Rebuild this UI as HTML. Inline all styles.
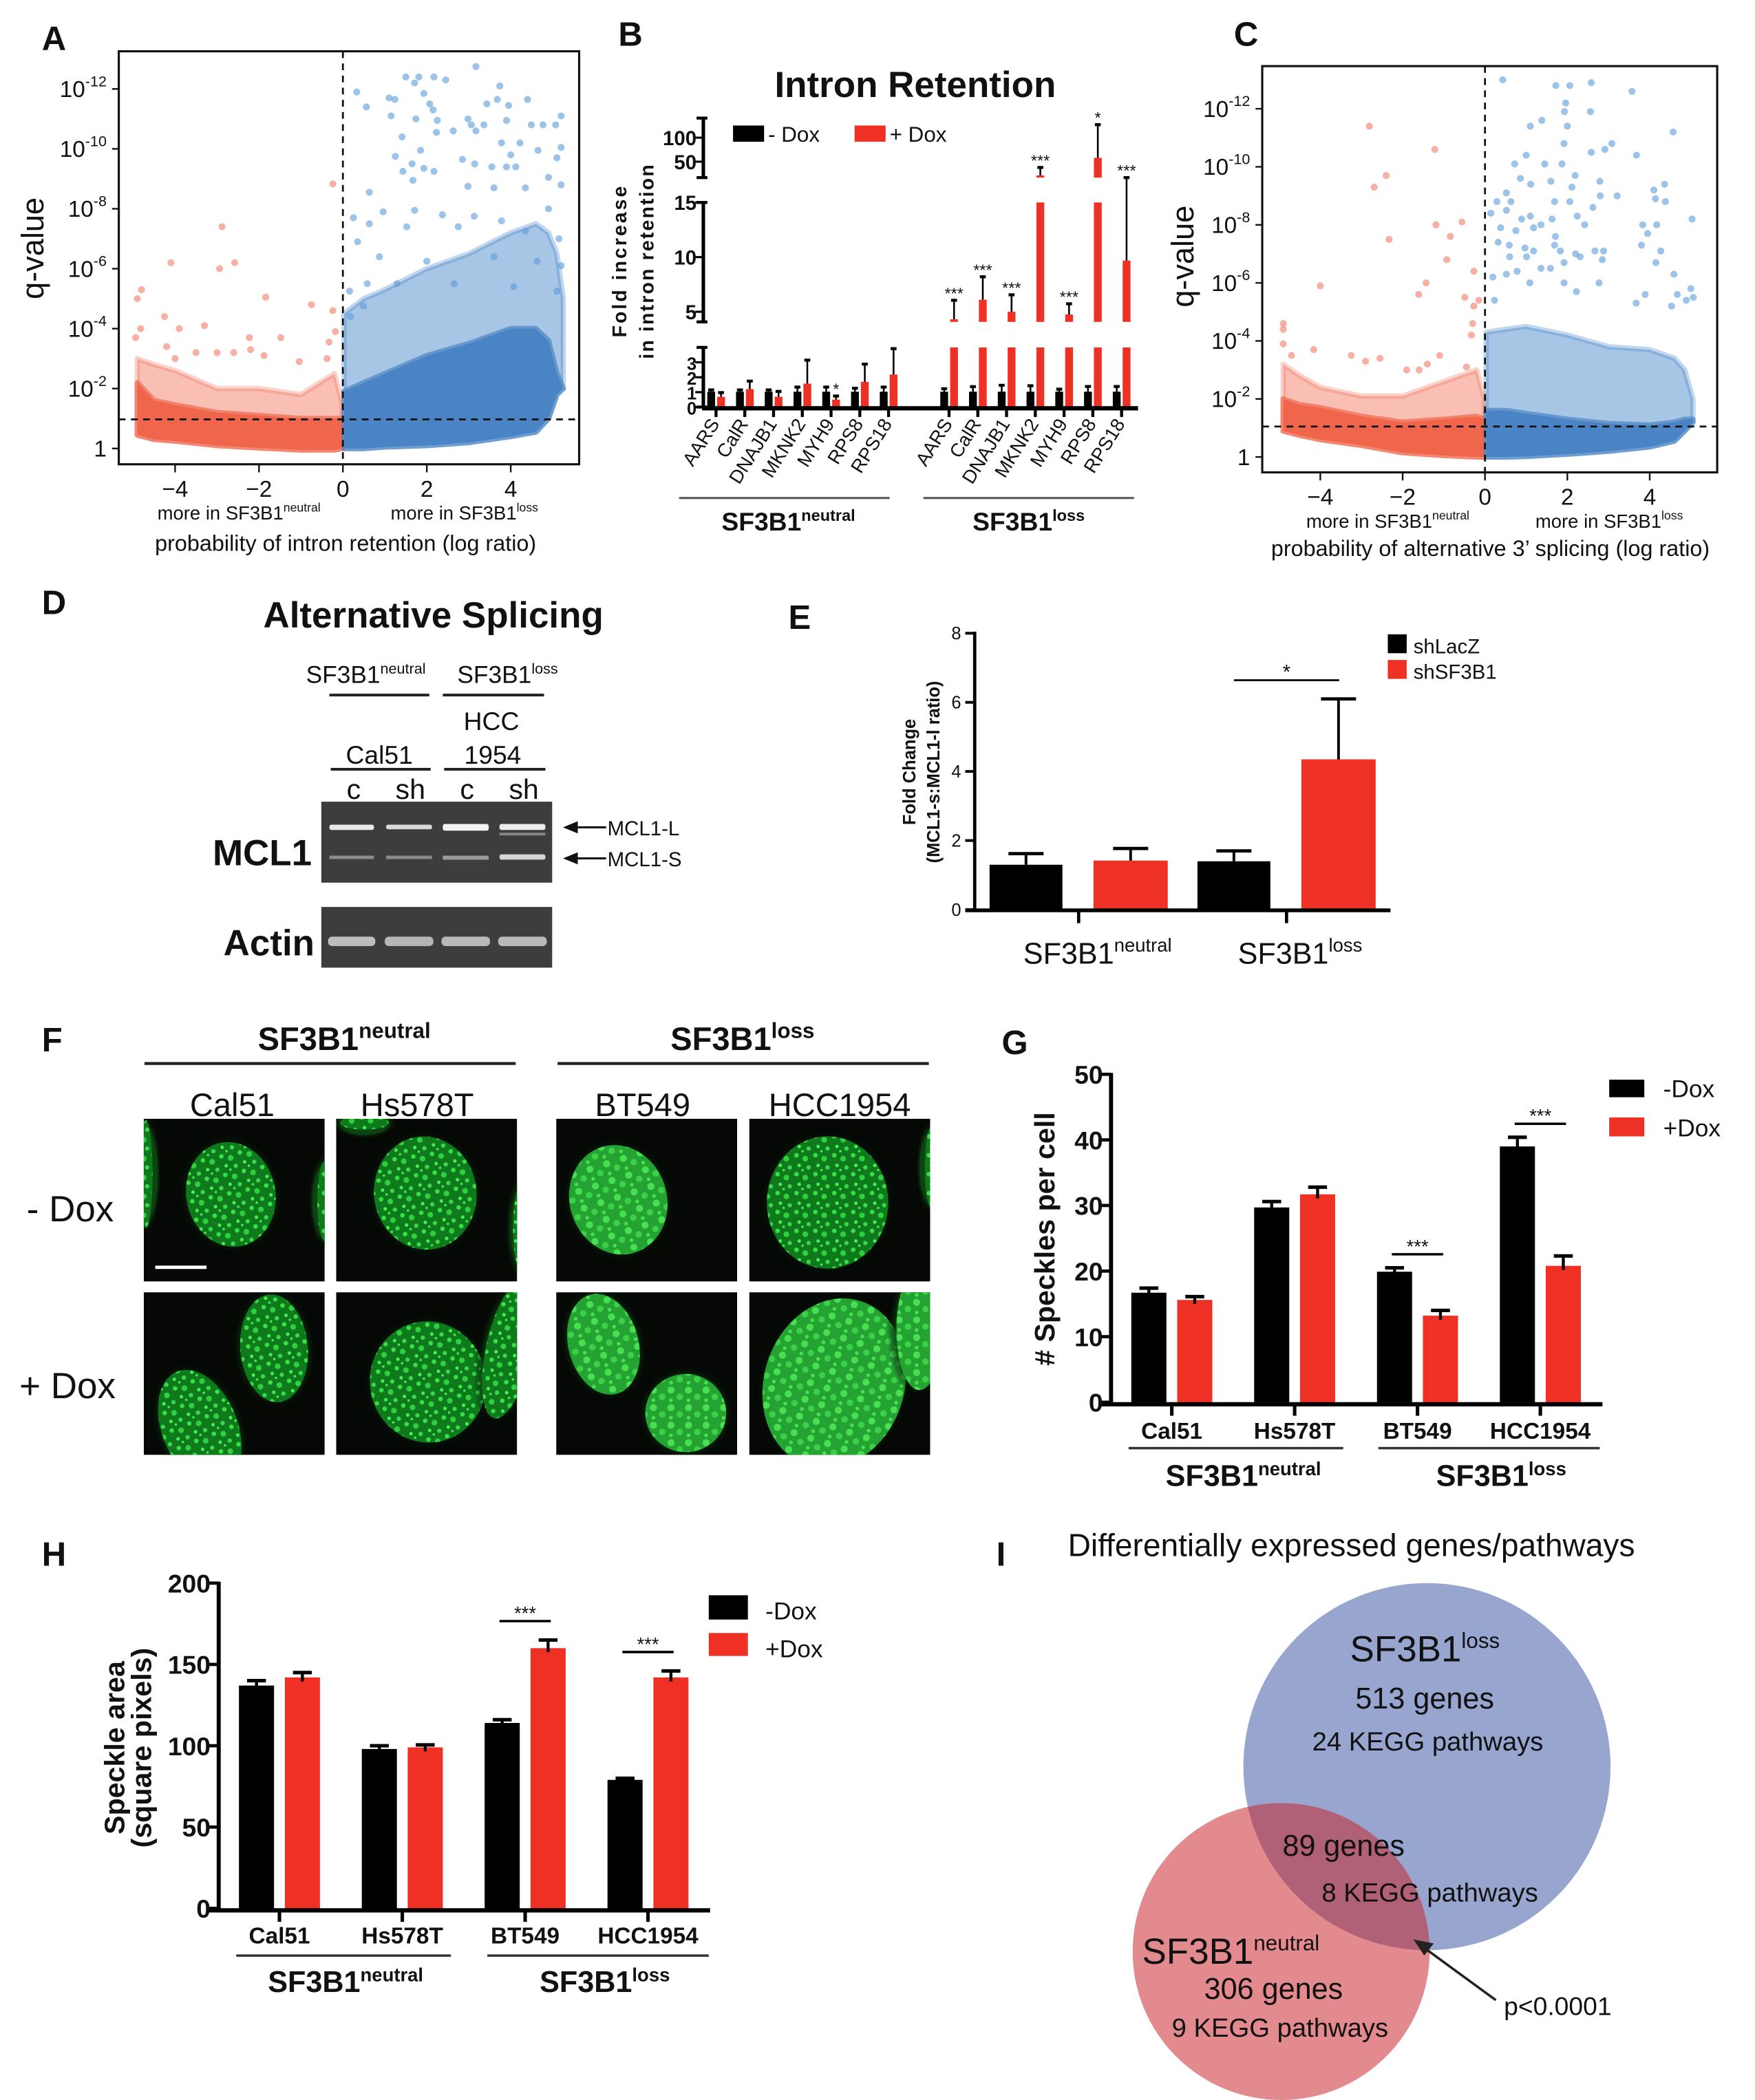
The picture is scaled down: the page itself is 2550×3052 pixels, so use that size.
<!DOCTYPE html>
<html><head><meta charset="utf-8"><title>SF3B1 figure</title>
<style>
html,body{margin:0;padding:0;background:#fff;}
svg{display:block;}
text{font-family:"Liberation Sans",Arial,sans-serif;fill:#111;}
.b{font-weight:bold;}
</style></head>
<body>
<svg id="fig" xmlns="http://www.w3.org/2000/svg" width="2550" height="3052" viewBox="0 0 1300 1556" preserveAspectRatio="none">
<defs>
<pattern id="speck" width="14" height="14" patternUnits="userSpaceOnUse">
<rect width="14" height="14" fill="#0f7a1c"/>
<circle cx="2" cy="2" r="1.7" fill="#37e046"/><circle cx="8.5" cy="4.5" r="2.1" fill="#2fd040"/><circle cx="4" cy="9.5" r="1.3" fill="#46f055"/><circle cx="11" cy="11" r="1.6" fill="#3ad84a"/><circle cx="6.5" cy="13" r="0.9" fill="#46f055"/>
</pattern>
<pattern id="speck2" width="13" height="13" patternUnits="userSpaceOnUse">
<rect width="13" height="13" fill="#25a332"/>
<circle cx="3" cy="3" r="2.6" fill="#48e052"/><circle cx="9.5" cy="8" r="2.4" fill="#3ad048"/><circle cx="3" cy="10.5" r="1.4" fill="#48e052"/>
</pattern>
<radialGradient id="glow"><stop offset="0.7" stop-color="#0e4a14" stop-opacity="0.9"/><stop offset="1" stop-color="#000" stop-opacity="0"/></radialGradient>
<clipPath id="clipA"><rect x="88" y="38" width="341" height="306"/></clipPath>
<clipPath id="clipC"><rect x="935" y="49" width="337" height="301"/></clipPath>
<clipPath id="clipBlue"><circle cx="1057" cy="1309" r="136"/></clipPath>
</defs>

<g class="b" font-size="25">
<text x="31" y="37" class="b" font-size="25">A</text>
<text x="458" y="34" class="b" font-size="25">B</text>
<text x="914" y="34" class="b" font-size="25">C</text>
<text x="31" y="455" class="b" font-size="25">D</text>
<text x="584" y="466" class="b" font-size="25">E</text>
<text x="31" y="779" class="b" font-size="25">F</text>
<text x="742" y="781" class="b" font-size="25">G</text>
<text x="31" y="1160" class="b" font-size="25">H</text>
<text x="738" y="1160" class="b" font-size="25">I</text>
</g>

<g id="panelA">
<g id="A-marks" clip-path="url(#clipA)"></g>
<rect x="88" y="38" width="341" height="306" fill="none" stroke="#111" stroke-width="1.6"/>
<g id="A-axes"></g>
<text x="32" y="184" font-size="23" text-anchor="middle" transform="rotate(-90 32 184)">q-value</text>
<text x="177" y="385" font-size="14" text-anchor="middle">more in SF3B1<tspan font-size="9" dy="-6">neutral</tspan></text>
<text x="344" y="385" font-size="14" text-anchor="middle">more in SF3B1<tspan font-size="9" dy="-6">loss</tspan></text>
<text x="256" y="408" font-size="16.5" text-anchor="middle">probability of intron retention (log ratio)</text>
</g>

<g id="panelC">
<g id="C-marks" clip-path="url(#clipC)"></g>
<rect x="935" y="49" width="337" height="301" fill="none" stroke="#111" stroke-width="1.6"/>
<g id="C-axes"></g>
<text x="884" y="190" font-size="23" text-anchor="middle" transform="rotate(-90 884 190)">q-value</text>
<text x="1028" y="391" font-size="14" text-anchor="middle">more in SF3B1<tspan font-size="9" dy="-6">neutral</tspan></text>
<text x="1192" y="391" font-size="14" text-anchor="middle">more in SF3B1<tspan font-size="9" dy="-6">loss</tspan></text>
<text x="1104" y="412" font-size="16.5" text-anchor="middle">probability of alternative 3’ splicing (log ratio)</text>
</g>

<g id="panelB">
<text x="678" y="72" font-size="27" class="b" text-anchor="middle">Intron Retention</text>
<rect x="543" y="93" width="23" height="12" fill="#000"/>
<text x="569" y="105" font-size="16">- Dox</text>
<rect x="633" y="93" width="23" height="12" fill="#ee3124"/>
<text x="659" y="105" font-size="16">+ Dox</text>
<text x="464" y="194" font-size="14.5" class="b" text-anchor="middle" transform="rotate(-90 464 194)" textLength="112">Fold increase</text>
<text x="484" y="194" font-size="14.5" class="b" text-anchor="middle" transform="rotate(-90 484 194)" textLength="144">in intron retention</text>
<line x1="503" y1="369" x2="659" y2="369" stroke="#555" stroke-width="1.5"/>
<line x1="684" y1="369" x2="840" y2="369" stroke="#555" stroke-width="1.5"/>
<text x="584" y="393" font-size="19" class="b" text-anchor="middle">SF3B1<tspan font-size="12" dy="-7">neutral</tspan></text>
<text x="762" y="393" font-size="19" class="b" text-anchor="middle">SF3B1<tspan font-size="12" dy="-7">loss</tspan></text>
<g id="B-marks"></g>
</g>

<g id="panelD">
<text x="321" y="465" font-size="27" class="b" text-anchor="middle">Alternative Splicing</text>
<text x="271" y="506" font-size="18" text-anchor="middle">SF3B1<tspan font-size="11" dy="-7">neutral</tspan></text>
<text x="376" y="506" font-size="18" text-anchor="middle">SF3B1<tspan font-size="11" dy="-7">loss</tspan></text>
<line x1="244" y1="515" x2="318" y2="515" stroke="#222" stroke-width="2"/>
<line x1="328" y1="515" x2="403" y2="515" stroke="#222" stroke-width="2"/>
<text x="364" y="541" font-size="19" text-anchor="middle">HCC</text>
<text x="281" y="566" font-size="19" text-anchor="middle">Cal51</text>
<text x="365" y="566" font-size="19" text-anchor="middle">1954</text>
<line x1="245" y1="570" x2="319" y2="570" stroke="#222" stroke-width="2"/>
<line x1="329" y1="570" x2="404" y2="570" stroke="#222" stroke-width="2"/>
<text x="262" y="592" font-size="21" text-anchor="middle">c</text>
<text x="304" y="592" font-size="21" text-anchor="middle">sh</text>
<text x="346" y="592" font-size="21" text-anchor="middle">c</text>
<text x="388" y="592" font-size="21" text-anchor="middle">sh</text>
<rect x="238" y="594" width="171" height="60" fill="#3d3d3d"/>
<g>
<rect x="244" y="611" width="33" height="4" fill="#e8e8e8" rx="1.5"/>
<rect x="286" y="611" width="34" height="3.5" fill="#d8d8d8" rx="1.5"/>
<rect x="328" y="610.5" width="34" height="5" fill="#f2f2f2" rx="1.5"/>
<rect x="370" y="610.5" width="34" height="4.5" fill="#ececec" rx="1.5"/>
<rect x="370" y="617" width="34" height="2" fill="#888"/>
<rect x="244" y="634" width="33" height="2.5" fill="#8c8c8c"/>
<rect x="286" y="634" width="34" height="2.5" fill="#8a8a8a"/>
<rect x="328" y="634" width="34" height="3" fill="#9a9a9a"/>
<rect x="370" y="633" width="34" height="4" fill="#d6d6d6" rx="1.5"/>
</g>
<rect x="238" y="672" width="171" height="45" fill="#3d3d3d"/>
<g>
<rect x="243" y="694" width="35" height="7" fill="#bdbdbd" rx="3"/>
<rect x="285" y="694" width="36" height="7" fill="#b5b5b5" rx="3"/>
<rect x="327" y="694" width="36" height="7" fill="#b8b8b8" rx="3"/>
<rect x="369" y="694" width="36" height="7" fill="#b8b8b8" rx="3"/>
</g>
<text x="231" y="641" font-size="27" class="b" text-anchor="end">MCL1</text>
<text x="233" y="708" font-size="27" class="b" text-anchor="end">Actin</text>
<g><line x1="426" y1="613" x2="449" y2="613" stroke="#111" stroke-width="1.5"/><polygon points="417,613 428,608.5 428,617.5" fill="#111"/></g>
<g><line x1="426" y1="636" x2="449" y2="636" stroke="#111" stroke-width="1.5"/><polygon points="417,636 428,631.5 428,640.5" fill="#111"/></g>
<text x="450" y="619" font-size="15">MCL1-L</text>
<text x="450" y="642" font-size="15">MCL1-S</text>
</g>

<g id="panelE">
<g id="E-marks"></g>
<text x="678" y="572" font-size="13" class="b" text-anchor="middle" transform="rotate(-90 678 572)">Fold Change</text>
<text x="696" y="572" font-size="13" class="b" text-anchor="middle" transform="rotate(-90 696 572)">(MCL1-s:MCL1-l ratio)</text>
<text x="813" y="714" font-size="22" text-anchor="middle">SF3B1<tspan font-size="14" dy="-9">neutral</tspan></text>
<text x="963" y="714" font-size="22" text-anchor="middle">SF3B1<tspan font-size="14" dy="-9">loss</tspan></text>
<rect x="1028" y="470" width="14" height="14" fill="#000"/>
<text x="1047" y="484" font-size="15">shLacZ</text>
<rect x="1028" y="489" width="14" height="14" fill="#ee3124"/>
<text x="1047" y="503" font-size="15">shSF3B1</text>
<line x1="914" y1="504" x2="992" y2="504" stroke="#111" stroke-width="1.5"/>
<text x="953" y="503" font-size="15" text-anchor="middle">*</text>
</g>

<g id="panelF">
<text x="255" y="778" font-size="24" class="b" text-anchor="middle">SF3B1<tspan font-size="16" dy="-9">neutral</tspan></text>
<text x="550" y="778" font-size="24" class="b" text-anchor="middle">SF3B1<tspan font-size="16" dy="-9">loss</tspan></text>
<line x1="107" y1="788" x2="382" y2="788" stroke="#222" stroke-width="2.2"/>
<line x1="413" y1="788" x2="688" y2="788" stroke="#222" stroke-width="2.2"/>
<text x="172" y="827" font-size="24" text-anchor="middle">Cal51</text>
<text x="309" y="827" font-size="24" text-anchor="middle">Hs578T</text>
<text x="476" y="827" font-size="24" text-anchor="middle">BT549</text>
<text x="622" y="827" font-size="24" text-anchor="middle">HCC1954</text>
<text x="52" y="905" font-size="27" text-anchor="middle">- Dox</text>
<text x="50" y="1036" font-size="27" text-anchor="middle">+ Dox</text>
<g id="F-tiles"></g>
</g>

<g id="panelG">
<g id="G-marks"></g>
<text x="781" y="918" font-size="21" class="b" text-anchor="middle" transform="rotate(-90 781 918)"># Speckles per cell</text>
<line x1="836" y1="1073" x2="995" y2="1073" stroke="#333" stroke-width="1.8"/>
<line x1="1021" y1="1073" x2="1185" y2="1073" stroke="#333" stroke-width="1.8"/>
<text x="921" y="1101" font-size="22" class="b" text-anchor="middle">SF3B1<tspan font-size="14" dy="-8">neutral</tspan></text>
<text x="1112" y="1101" font-size="22" class="b" text-anchor="middle">SF3B1<tspan font-size="14" dy="-8">loss</tspan></text>
<rect x="1192" y="800" width="26" height="13" fill="#000"/>
<text x="1232" y="813" font-size="18">-Dox</text>
<rect x="1192" y="828" width="26" height="14" fill="#ee3124"/>
<text x="1232" y="842" font-size="18">+Dox</text>
</g>

<g id="panelH">
<g id="H-marks"></g>
<text x="92" y="1295" font-size="21" class="b" text-anchor="middle" transform="rotate(-90 92 1295)">Speckle area</text>
<text x="112" y="1295" font-size="21" class="b" text-anchor="middle" transform="rotate(-90 112 1295)">(square pixels)</text>
<line x1="175" y1="1449" x2="334" y2="1449" stroke="#333" stroke-width="1.8"/>
<line x1="361" y1="1449" x2="525" y2="1449" stroke="#333" stroke-width="1.8"/>
<text x="256" y="1476" font-size="22" class="b" text-anchor="middle">SF3B1<tspan font-size="14" dy="-8">neutral</tspan></text>
<text x="448" y="1476" font-size="22" class="b" text-anchor="middle">SF3B1<tspan font-size="14" dy="-8">loss</tspan></text>
<rect x="525" y="1182" width="29" height="18" fill="#000"/>
<text x="567" y="1200" font-size="18">-Dox</text>
<rect x="525" y="1210" width="29" height="17" fill="#ee3124"/>
<text x="567" y="1228" font-size="18">+Dox</text>
</g>

<g id="panelI">
<text x="791" y="1153" font-size="23.5">Differentially expressed genes/pathways</text>
<circle cx="1057" cy="1309" r="136" fill="#97a5cf"/>
<circle cx="949" cy="1446" r="110" fill="#e38a8f"/>
<circle cx="949" cy="1446" r="110" fill="#b06177" clip-path="url(#clipBlue)"/>
<text x="1000" y="1231" font-size="27">SF3B1<tspan font-size="16" dy="-10">loss</tspan></text>
<text x="1004" y="1266" font-size="22">513 genes</text>
<text x="972" y="1297" font-size="19.5" fill="#222">24 KEGG pathways</text>
<text x="950" y="1375" font-size="22">89 genes</text>
<text x="979" y="1409" font-size="19.5" fill="#222">8 KEGG pathways</text>
<text x="846" y="1455" font-size="27">SF3B1<tspan font-size="16" dy="-10">neutral</tspan></text>
<text x="892" y="1481" font-size="22">306 genes</text>
<text x="868" y="1509" font-size="19.5" fill="#222">9 KEGG pathways</text>
<g><line x1="1108" y1="1482" x2="1056" y2="1444" stroke="#222" stroke-width="1.8"/><polygon points="1047,1437 1062,1440 1055,1449" fill="#222"/></g>
<text x="1114" y="1493" font-size="19">p&lt;0.0001</text>
</g>
</svg>

<script>
// Panel A
const aRedX = [-0.24,-2.88,-4.1,-2.58,-2.94,-4.8,-4.9,-1.84,-0.75,-0.24,-4.25,-4.82,-3.9,-3.3,-0.18,-2.23,-1.48,-0.33,-4.94,-4.2,-3.5,-3.0,-2.6,-2.2,-1.88,-1.04,-0.38,-4.0];
const aRedY = [8.83,7.4,6.2,6.2,6.0,5.3,5.0,5.05,4.8,4.6,4.4,4.0,4.0,4.1,3.9,3.7,3.7,3.55,3.7,3.4,3.2,3.2,3.2,3.3,3.1,2.9,3.0,3.0];
const aBlueX = [3.17,1.5,1.81,2.17,2.45,3.74,1.71,0.33,1.1,1.24,1.93,2.07,3.43,3.68,3.95,4.4,0.56,2.15,5.2,1.15,1.74,2.25,2.98,3.06,3.36,3.9,4.49,4.77,5.07,2.63,1.41,2.23,3.17,3.78,4.22,5.2,4.65,1.25,1.85,2.85,3.14,4.0,5.1,1.65,1.93,3.55,3.9,4.12,4.9,1.43,2.17,0.63,1.67,2.98,3.6,4.35,5.2,0.25,0.96,1.71,2.37,3.13,3.78,4.9,0.63,1.52,2.75,4.35,5.15,0.35,0.87,2.0,3.6,4.63,5.2,0.16,0.58,1.29,2.65,4.07,5.1,0.18,0.49];
const aBlueY = [12.75,12.4,12.4,12.4,12.3,12.1,12.2,11.9,11.7,11.65,11.85,11.5,11.5,11.65,11.45,11.65,11.4,11.3,11.1,11.1,11.0,10.95,11.0,10.8,10.8,10.95,10.8,10.8,10.8,10.6,10.4,10.55,10.6,10.2,10.2,10.05,9.95,9.75,9.95,9.65,9.5,9.8,9.7,9.5,9.35,9.4,9.4,9.4,9.05,9.25,9.25,8.55,8.95,8.75,8.7,8.7,8.8,7.7,7.9,7.95,7.8,7.75,7.6,8.0,7.5,7.4,7.4,7.25,7.0,6.9,6.4,6.25,6.4,6.25,6.1,5.25,5.5,5.5,5.5,5.4,5.25,4.4,4.75];
const aRedEnvX = [-4.9,-4.5,-4,-3,-2,-1,-0.2,-0.02];
const aRedSolidTop = [2.2,1.6,1.45,1.2,1.1,1.0,1.0,1.0];
const aRedCloudTop = [3.0,2.8,2.6,2.0,2.0,1.8,2.5,1.5];
const aRedBottom = [0.45,0.3,0.25,0.1,0.02,-0.05,-0.05,0.0];
const aBlueEnvX = [0.03,0.5,1,2,3,4,4.6,4.9,5.1,5.25];
const aBlueSolidTop = [1.9,2.2,2.5,3.1,3.5,4.0,4.0,3.6,2.5,2.0];
const aBlueCloudTop = [4.5,5.0,5.3,6.0,6.5,7.2,7.5,7.2,6.5,5.0];
const aBlueBottom = [0.0,0.0,0.05,0.1,0.2,0.4,0.55,1.0,1.8,2.0];

// Panel C
const cRedX = [-2.81,-1.22,-2.4,-2.69,-1.19,-0.56,-2.33,-0.84,-0.93,-0.27,-4.0,-1.43,-1.61,-0.49,-0.15,-4.9,-4.9,-4.9,-4.16,-4.7,-3.25,-1.1,-2.55,-2.9,-1.4,-1.6,-1.9,-0.45,-0.3,-0.33,-0.27];
const cRedY = [11.4,10.6,9.7,9.3,8.0,8.1,7.5,7.6,6.8,6.4,5.9,6.0,5.6,5.5,5.4,4.6,4.4,3.9,3.7,3.5,3.5,3.5,3.4,3.3,3.2,3.0,3.0,3.1,4.6,4.2,5.2];
const cBlueX = [0.43,1.72,2.06,2.58,3.57,1.96,1.93,2.56,1.38,1.1,2.0,4.57,1.92,3.08,2.91,2.58,3.68,1.0,0.72,1.45,1.87,0.86,1.6,2.19,2.79,1.11,4.1,4.36,2.11,0.52,3.21,4.14,2.8,0.29,0.63,1.69,2.06,4.38,2.62,0.14,0.52,1.1,2.24,1.63,5.03,0.89,1.36,2.42,3.83,4.17,0.38,0.75,1.18,3.95,1.71,0.32,0.59,3.8,1.69,0.97,1.18,2.88,2.67,2.2,4.27,1.83,0.6,1.01,1.92,2.31,2.85,4.15,0.78,1.36,1.59,0.19,0.52,4.59,1.09,1.92,2.77,5.0,0.23,2.22,3.89,4.67,5.06,4.89,4.53,3.67];
const cBlueY = [13.0,12.8,12.8,12.9,12.6,12.2,11.9,11.9,11.6,11.4,11.4,11.2,10.8,10.8,10.6,10.5,10.4,10.4,10.1,10.1,10.1,9.6,9.5,9.7,9.5,9.4,9.2,9.4,9.3,9.1,9.0,8.9,9.0,8.8,8.8,8.8,8.8,8.8,8.6,8.4,8.5,8.3,8.3,8.2,8.2,8.2,8.0,8.0,8.0,8.0,7.9,7.8,7.9,7.7,7.6,7.4,7.3,7.3,7.3,7.2,7.1,7.1,7.1,7.0,7.1,7.1,6.9,6.9,6.7,6.9,6.8,6.7,6.4,6.5,6.5,6.2,6.3,6.3,6.0,6.0,6.0,5.8,5.4,5.7,5.6,5.6,5.5,5.4,5.2,5.3];
const cRedEnvX = [-4.9,-4.5,-4,-3,-2,-1,-0.2,-0.02];
const cRedSolidTop = [2.0,1.8,1.7,1.4,1.2,1.3,1.4,1.3];
const cRedCloudTop = [3.2,2.8,2.4,2.1,2.1,2.6,3.0,2.0];
const cRedBottom = [0.9,0.75,0.6,0.4,0.15,0.05,0.0,0.0];
const cBlueEnvX = [0.03,0.5,1,2,3,4,4.6,4.85,5.05];
const cBlueSolidTop = [1.6,1.6,1.5,1.3,1.15,1.1,1.2,1.3,1.3];
const cBlueCloudTop = [4.3,4.4,4.5,4.2,3.8,3.7,3.4,3.0,2.0];
const cBlueBottom = [0.0,0.0,0.02,0.1,0.2,0.35,0.55,0.9,1.2];

// Panel B
const bGenes = ["AARS","CalR","DNAJB1","MKNK2","MYH9","RPS8","RPS18"];
const bNeutralMinus = [1.03,1.03,1.03,1.03,1.03,1.03,1.03];
const bNeutralMinusErr = [1.15,1.15,1.15,1.34,1.34,1.26,1.34];
const bNeutralPlus = [0.69,1.2,0.69,1.57,0.5,1.69,2.18];
const bNeutralPlusErr = [0.97,1.74,1.05,3.15,0.74,2.88,3.92];
const bNeutralStars = ["","","","","*","",""];
const bLossMinus = [1.03,1.03,1.03,1.03,1.03,1.03,1.03];
const bLossMinusErr = [1.23,1.37,1.46,1.43,1.2,1.38,1.38];
const bLossPlus = [4.31,6.1,5.0,21.4,4.75,58,9.68];
const bLossPlusErr = [6.05,8.2,6.55,38,5.73,127,12.9];
const bLossStars = ["***","***","***","***","***","*","***"];
const bTicksBottom = [0,1,2,3];
const bTicksMid = [5,10,15];
const bTicksTop = [50,100];

// Panel E
const eGroups = ["SF3B1 neutral","SF3B1 loss"];
const eShLacZ = [1.3,1.4];
const eShLacZErr = [1.62,1.7];
const eShSF3B1 = [1.42,4.35];
const eShSF3B1Err = [1.77,6.1];
const eTicks = [0,2,4,6,8];

// Panel G
const gCells = ["Cal51","Hs578T","BT549","HCC1954"];
const gMinusDox = [16.7,29.7,19.9,39.0];
const gMinusErr = [17.4,30.6,20.5,40.4];
const gPlusDox = [15.6,31.7,13.2,20.8];
const gPlusErr = [16.1,32.8,14.0,22.3];
const gSig = ["","","***","***"];
const gTicks = [0,10,20,30,40,50];

// Panel H
const hCells = ["Cal51","Hs578T","BT549","HCC1954"];
const hMinusDox = [137,98,114,79];
const hMinusErr = [140,100,116,80];
const hPlusDox = [142,99,160,142];
const hPlusErr = [145,100.5,165,146];
const hSig = ["","","***","***"];
const hTicks = [0,50,100,150,200];

const NS = "http://www.w3.org/2000/svg";
function mk(parent, tag, attrs) {
  const e = document.createElementNS(NS, tag);
  for (const k in attrs) e.setAttribute(k, attrs[k]);
  parent.appendChild(e);
  return e;
}
const RED = "#ee3124";

function volcano(gid, axid, xs, ys, env, pts, frame) {
  const g = document.getElementById(gid);
  const ax = document.getElementById(axid);
  function poly(X, top, bot, fill, op, name) {
    let p = [];
    for (let i = 0; i < X.length; i++) p.push(xs(X[i]).toFixed(1) + "," + ys(top[i]).toFixed(1));
    for (let i = X.length - 1; i >= 0; i--) p.push(xs(X[i]).toFixed(1) + "," + ys(bot[i]).toFixed(1));
    const e = mk(g, "polygon", {points: p.join(" "), fill: fill, "fill-opacity": op, stroke: fill, "stroke-opacity": op * 0.7, "stroke-width": 4, "stroke-linejoin": "round"});
    
    
  }
  poly(env.rx, env.rcloud, env.rbot, "#f2725a", 0.45, "red-sparse-cloud");
  poly(env.bx, env.bcloud, env.bbot, "#4f8dcc", 0.5, "blue-sparse-cloud");
  poly(env.rx, env.rsolid, env.rbot, "#f0664c", 1, "red-dense-cloud");
  poly(env.bx, env.bsolid, env.bbot, "#4a84c5", 1, "blue-dense-cloud");
  for (let i = 0; i < pts.rx.length; i++) {
    const c = mk(g, "circle", {cx: xs(pts.rx[i]), cy: ys(pts.ry[i]), r: 2.6, fill: "#f27d68", "fill-opacity": 0.6});
    
    
  }
  for (let i = 0; i < pts.bx.length; i++) {
    const c = mk(g, "circle", {cx: xs(pts.bx[i]), cy: ys(pts.by[i]), r: 2.6, fill: "#5b9bd8", "fill-opacity": 0.6});
    
    
  }
  const v = mk(g, "line", {x1: xs(0), x2: xs(0), y1: frame.y0, y2: frame.y1, stroke: "#111", "stroke-width": 1.4, "stroke-dasharray": "5,4"});
  
  
  const hLine = mk(ax, "line", {x1: frame.x0, x2: frame.x1, y1: ys(frame.thr), y2: ys(frame.thr), stroke: "#111", "stroke-width": 1.4, "stroke-dasharray": "5,4"});
  
  
  [-4,-2,0,2,4].forEach(t => {
    const l = mk(ax, "line", {x1: xs(t), x2: xs(t), y1: frame.y1, y2: frame.y1 + 6, stroke: "#111", "stroke-width": 1.2});
    
    
    const tx = mk(ax, "text", {x: xs(t), y: frame.y1 + 24, "font-size": 17, "text-anchor": "middle"});
    tx.textContent = t < 0 ? "\u2212" + Math.abs(t) : String(t);
    
    
  });
  [0,2,4,6,8,10,12].forEach(d => {
    const y = ys(d);
    const l = mk(ax, "line", {x1: frame.x0 - 5, x2: frame.x0, y1: y, y2: y, stroke: "#111", "stroke-width": 1.2});
    
    
    const tx = mk(ax, "text", {x: frame.x0 - 9, y: y + 6, "font-size": 17, "text-anchor": "end"});
    
    
    if (d === 0) { tx.textContent = "1"; }
    else {
      tx.textContent = "10";
      const s = mk(tx, "tspan", {"font-size": 11, dy: -8});
      s.textContent = "-" + d;
    }
  });
}

(function(){
  const xs = x => 254 + x * 31.08;
  const ys = d => 332.3 - d * 22.2;
  volcano("A-marks", "A-axes", xs, ys,
    {rx: aRedEnvX, rsolid: aRedSolidTop, rcloud: aRedCloudTop, rbot: aRedBottom, bx: aBlueEnvX, bsolid: aBlueSolidTop, bcloud: aBlueCloudTop, bbot: aBlueBottom},
    {rx: aRedX, ry: aRedY, bx: aBlueX, by: aBlueY},
    {x0: 88, x1: 429, y0: 38, y1: 344, thr: 0.97});
})();
(function(){
  const xs = x => 1100 + x * 30.5;
  const ys = d => 338.6 - d * 21.5;
  volcano("C-marks", "C-axes", xs, ys,
    {rx: cRedEnvX, rsolid: cRedSolidTop, rcloud: cRedCloudTop, rbot: cRedBottom, bx: cBlueEnvX, bsolid: cBlueSolidTop, bcloud: cBlueCloudTop, bbot: cBlueBottom},
    {rx: cRedX, ry: cRedY, bx: cBlueX, by: cBlueY},
    {x0: 935, x1: 1272, y0: 49, y1: 350, thr: 1.05});
})();

(function(){
  const g = document.getElementById("B-marks");
  const segs = [
    {lo: 0, hi: 4.0, y0: 301.6, k: 11.04, v0: 0},
    {lo: 4.1, hi: 15, y0: 231, k: 8.1, v0: 5},
    {lo: 12.8, hi: 134, y0: 119.8, k: 0.356, v0: 50}
  ];
  const segTop = [257.4, 150, 87.5];
  const segBot = [301.6, 238.5, 131.6];
  function yv(s, v) { return s.y0 - (v - s.v0) * s.k; }
  function yAny(v) {
    for (let i = 2; i >= 0; i--) if (v >= segs[i].lo) return Math.max(segTop[i], Math.min(segBot[i], yv(segs[i], v)));
    return segBot[0];
  }
  function bar(x, w, v, fill, name) {
    segs.forEach((s, i) => {
      if (v > s.lo) {
        const top = Math.max(segTop[i], yv(s, Math.min(v, s.hi)));
        const r = mk(g, "rect", {x: x, y: top, width: w, height: segBot[i] - top, fill: fill});
        
        
      }
    });
  }
  function err(cx, v, e, name) {
    const yt = yAny(e), yb = yAny(v);
    const l = mk(g, "line", {x1: cx, x2: cx, y1: yt, y2: yb, stroke: "#000", "stroke-width": 1.3});
    
    
    const c = mk(g, "line", {x1: cx - 2.2, x2: cx + 2.2, y1: yt, y2: yt, stroke: "#000", "stroke-width": 2.2});
    
    
    return yt;
  }
  const tickX = (grp, i) => (grp === 0 ? 530.4 : 703) + i * 21.3;
  [0, 1].forEach(grp => {
    const mv = grp === 0 ? bNeutralMinus : bLossMinus, me = grp === 0 ? bNeutralMinusErr : bLossMinusErr;
    const pv = grp === 0 ? bNeutralPlus : bLossPlus, pe = grp === 0 ? bNeutralPlusErr : bLossPlusErr;
    const st = grp === 0 ? bNeutralStars : bLossStars;
    bGenes.forEach((gene, i) => {
      const t = tickX(grp, i);
      bar(t - 6.5, 5.8, mv[i], "#000", "bar-minus-dox-" + gene.toLowerCase());
      err(t - 3.6, mv[i], me[i], "error-minus-dox");
      bar(t + 0.8, 5.8, pv[i], RED, "bar-plus-dox-" + gene.toLowerCase());
      const yt = err(t + 3.7, pv[i], pe[i], "error-plus-dox");
      if (st[i]) {
        const s = mk(g, "text", {x: t + 3.7, y: yt - 1, "font-size": 12, "text-anchor": "middle"});
        s.textContent = st[i];
        
        
      }
      const tk = mk(g, "line", {x1: t, x2: t, y1: 301, y2: 309, stroke: "#000", "stroke-width": 2.2});
      
      
      const lb = mk(g, "text", {x: t + 3, y: 314, "font-size": 14, "text-anchor": "end", transform: "rotate(-58 " + (t + 3) + " 314)"});
      lb.textContent = gene;
      
      
    });
  });
  const xl = mk(g, "line", {x1: 520, x2: 843, y1: 302.5, y2: 302.5, stroke: "#000", "stroke-width": 3.2});
  
  
  [0, 1, 2].forEach(i => {
    const a = mk(g, "line", {x1: 521, x2: 521, y1: segTop[i], y2: segBot[i], stroke: "#000", "stroke-width": 2.6});
    
    
    [segTop[i], segBot[i]].forEach(yy => {
      const c = mk(g, "line", {x1: 516, x2: 524, y1: yy, y2: yy, stroke: "#000", "stroke-width": 2.2});
      
      
    });
  });
  const tk = [[bTicksBottom, 0], [bTicksMid, 1], [bTicksTop, 2]];
  tk.forEach(([arr, si]) => arr.forEach(v => {
    const y = yv(segs[si], v);
    const l = mk(g, "line", {x1: 515, x2: 521, y1: y, y2: y, stroke: "#000", "stroke-width": 1.6});
    
    
    const t = mk(g, "text", {x: 516, y: y + 5.5, "font-size": si === 0 ? 13 : 15, "text-anchor": "end", "font-weight": "bold"});
    t.textContent = v;
    
    
  }));
})();

(function(){
  const g = document.getElementById("E-marks");
  const y = v => 674 - v * 25.6;
  const gx = [799, 953];
  eGroups.forEach((gr, i) => {
    const bx = gx[i] - 66, rx = gx[i] + 11;
    const b = mk(g, "rect", {x: bx, y: y(eShLacZ[i]), width: 54, height: 674 - y(eShLacZ[i]), fill: "#000"});
    
    
    const r = mk(g, "rect", {x: rx, y: y(eShSF3B1[i]), width: 55, height: 674 - y(eShSF3B1[i]), fill: RED});
    
    
    [[bx + 27, eShLacZ[i], eShLacZErr[i]], [rx + 27.5, eShSF3B1[i], eShSF3B1Err[i]]].forEach(([cx, v, e]) => {
      const l = mk(g, "line", {x1: cx, x2: cx, y1: y(e), y2: y(v), stroke: "#000", "stroke-width": 2});
      
      
      const c = mk(g, "line", {x1: cx - 13, x2: cx + 13, y1: y(e), y2: y(e), stroke: "#000", "stroke-width": 2.4});
      
      
    });
    const t = mk(g, "line", {x1: gx[i], x2: gx[i], y1: 674, y2: 684, stroke: "#000", "stroke-width": 2.4});
    
    
  });
  const ax = mk(g, "line", {x1: 722, x2: 722, y1: 468, y2: 675, stroke: "#000", "stroke-width": 2.4});
  
  
  const xa = mk(g, "line", {x1: 715, x2: 1030, y1: 674.5, y2: 674.5, stroke: "#000", "stroke-width": 2.8});
  
  
  eTicks.forEach(v => {
    const l = mk(g, "line", {x1: 715, x2: 722, y1: y(v), y2: y(v), stroke: "#000", "stroke-width": 2});
    
    
    const t = mk(g, "text", {x: 712, y: y(v) + 4.5, "font-size": 13, "text-anchor": "end"});
    t.textContent = v;
    
    
  });
})();

function grouped(gid, cells, mv, me, pv, pe, sig, ticks, o) {
  const g = document.getElementById(gid);
  const y = v => o.y0 - v * o.k;
  cells.forEach((c, i) => {
    const t = o.t0 + i * o.sp;
    const b = mk(g, "rect", {x: t - o.off - o.w / 2, y: y(mv[i]), width: o.w, height: o.y0 - y(mv[i]), fill: "#000"});
    
    
    const r = mk(g, "rect", {x: t + o.off - o.w / 2, y: y(pv[i]), width: o.w, height: o.y0 - y(pv[i]), fill: RED});
    
    
    [[t - o.off, mv[i], me[i]], [t + o.off, pv[i], pe[i]]].forEach(([cx, v, e]) => {
      const l = mk(g, "line", {x1: cx, x2: cx, y1: y(e), y2: y(v) + 3, stroke: "#000", "stroke-width": 2.2});
      
      
      const cap = mk(g, "line", {x1: cx - 7, x2: cx + 7, y1: y(e), y2: y(e), stroke: "#000", "stroke-width": 2.6});
      
      
    });
    if (sig[i]) {
      const sy = Math.min(y(me[i]), y(pe[i])) - o.sigGap;
      const sl = mk(g, "line", {x1: t - o.off - 2, x2: t + o.off + 2, y1: sy, y2: sy, stroke: "#000", "stroke-width": 1.8});
      
      
      const st = mk(g, "text", {x: t, y: sy - 1, "font-size": 14, "text-anchor": "middle"});
      st.textContent = sig[i];
      
      
    }
    const tk = mk(g, "line", {x1: t, x2: t, y1: o.y0, y2: o.y0 + 10, stroke: "#000", "stroke-width": 2.6});
    
    
    const lb = mk(g, "text", {x: t, y: o.lblY, "font-size": 17, "font-weight": "bold", "text-anchor": "middle"});
    lb.textContent = c;
    
    
  });
  const ya = mk(g, "line", {x1: o.ax, x2: o.ax, y1: y(ticks[ticks.length - 1]) - 1, y2: o.y0 + 1.5, stroke: "#000", "stroke-width": 3});
  
  
  const xa = mk(g, "line", {x1: o.ax - 8, x2: o.xend, y1: o.y0 + 1.5, y2: o.y0 + 1.5, stroke: "#000", "stroke-width": 3.2});
  
  
  ticks.forEach(v => {
    const l = mk(g, "line", {x1: o.ax - 7, x2: o.ax, y1: y(v), y2: y(v), stroke: "#000", "stroke-width": 2.4});
    
    
    const t = mk(g, "text", {x: o.ax - 6, y: y(v) + 7, "font-size": 19, "font-weight": "bold", "text-anchor": "end"});
    t.textContent = v;
    
    
  });
}
grouped("G-marks", gCells, gMinusDox, gMinusErr, gPlusDox, gPlusErr, gSig, gTicks,
  {y0: 1039, k: 4.86, t0: 868, sp: 91, off: 17, w: 26, ax: 823, xend: 1187, lblY: 1066, sigGap: 10});
grouped("H-marks", hCells, hMinusDox, hMinusErr, hPlusDox, hPlusErr, hSig, hTicks,
  {y0: 1414, k: 1.205, t0: 207, sp: 91, off: 17, w: 26, ax: 162, xend: 526, lblY: 1440, sigGap: 14});

(function(){
  const g = document.getElementById("F-tiles");
  const tilesX = [106.5, 249, 412, 555];
  const tilesY = [829, 957.5];
  const nuclei = [
    [[0,0,171,885,33,39,-12,"speck"],[0,0,108,870,5,40,0,"speck"],[0,0,241,890,6,30,0,"speck"]],
    [[1,0,315,884,38,42,-8,"speck"],[1,0,392,910,12,42,0,"speck"],[1,0,270,832,18,5,0,"speck"]],
    [[2,0,458,889,36,41,-18,"speck2"]],
    [[3,0,613,891,45,49,0,"speck"],[3,0,690,865,5,30,0,"speck"]],
    [[0,1,203,999,25,40,-5,"speck"],[0,1,148,1058,28,45,-22,"speck"]],
    [[1,1,317,1024,43,45,-10,"speck"],[1,1,377,1000,17,52,12,"speck"]],
    [[2,1,447,996,26,38,-15,"speck2"],[2,1,508,1047,30,29,0,"speck2"]],
    [[3,1,618,1025,52,64,18,"speck2"],[3,1,681,985,17,45,0,"speck2"]]
  ];
  let idx = 0;
  tilesY.forEach((ty, r) => tilesX.forEach((tx, c) => {
    const cp = mk(document.querySelector("defs"), "clipPath", {id: "tile" + idx});
    mk(cp, "rect", {x: tx, y: ty, width: 134, height: 120.5});
    const grp = mk(g, "g", {"clip-path": "url(#tile" + idx + ")"});
    
    
    const bg = mk(grp, "rect", {x: tx, y: ty, width: 134, height: 120.5, fill: "#050805"});
    
    
    idx++;
  }));
  const groups = g.querySelectorAll("g");
  nuclei.forEach(list => {
    list.forEach(n => {
      const grp = groups[n[1] * 4 + n[0]];
      const halo = mk(grp, "ellipse", {cx: n[2], cy: n[3], rx: n[4] + 7, ry: n[5] + 7, fill: "url(#glow)", transform: "rotate(" + n[6] + " " + n[2] + " " + n[3] + ")"});
      
      
      const e = mk(grp, "ellipse", {cx: n[2], cy: n[3], rx: n[4], ry: n[5], fill: "url(#" + n[7] + ")", transform: "rotate(" + n[6] + " " + n[2] + " " + n[3] + ")"});
      
      
    });
  });
  const sb = mk(g, "line", {x1: 115, x2: 153, y1: 939, y2: 939, stroke: "#fff", "stroke-width": 2.5});
  
  
})();
</script>
</body></html>
